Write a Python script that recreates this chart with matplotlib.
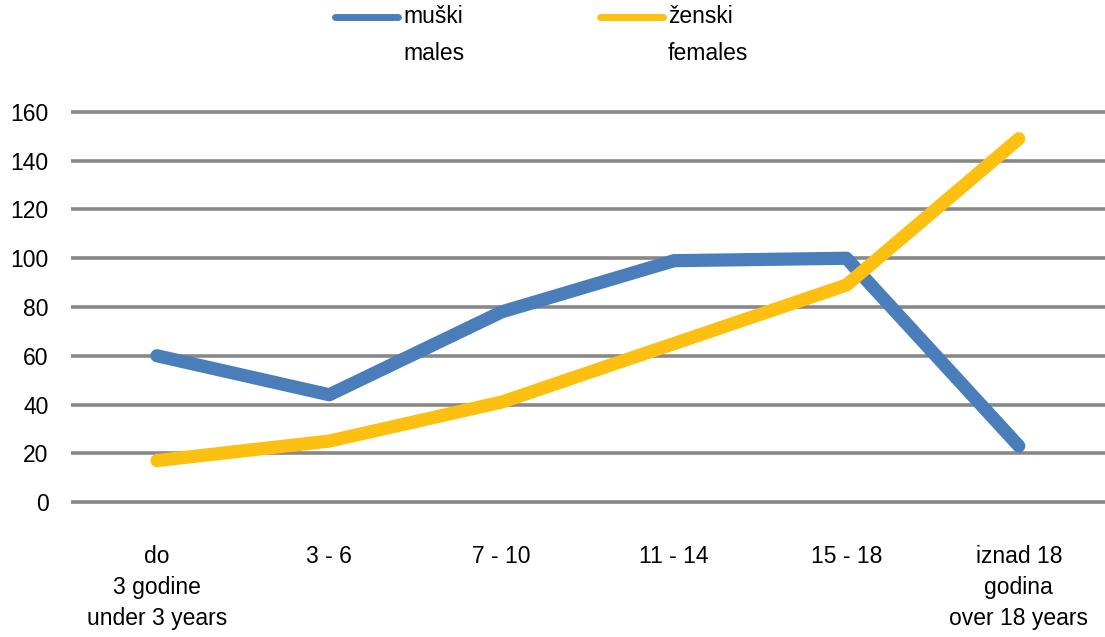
import matplotlib
matplotlib.use("Agg")
import matplotlib.pyplot as plt
from matplotlib.lines import Line2D

categories = ["do\n3 godine\nunder 3 years", "3 - 6", "7 - 10", "11 - 14", "15 - 18", "iznad 18\ngodina\nover 18 years"]
males = [60, 44, 78, 99, 100, 23]
females = [17, 25, 41, 65, 89, 149]
series_labels = ["muški\nmales", "ženski\nfemales"]
yticks = [0, 20, 40, 60, 80, 100, 120, 140, 160]

plt.rcParams['font.family'] = ['Liberation Sans', 'DejaVu Sans']
blue = "#4A7EBB"
yellow = "#FDC010"
fs = 16.5

fig = plt.figure(figsize=(11.05, 6.37), dpi=100)
ax = fig.add_axes([0.064, 1 - 514.2 / 637, 0.936, (514.2 - 99.8) / 637])
x = list(range(len(categories)))
ax.set_xlim(-0.5, len(categories) - 0.5)
ax.set_ylim(-5, 165)
for t in yticks:
    ax.axhline(t, color="#888888", lw=2.6, zorder=1)
ax.plot(x, males, color=blue, lw=9.5, solid_capstyle="round", solid_joinstyle="round", zorder=3)
ax.plot(x, females, color=yellow, lw=9.5, solid_capstyle="round", solid_joinstyle="round", zorder=3)
ax.set_yticks(yticks)
ax.set_yticklabels([str(t) for t in yticks], fontsize=fs)
ax.set_xticks(x)
ax.set_xticklabels(categories, fontsize=fs, linespacing=1.45)
ax.tick_params(axis="both", length=0)
ax.tick_params(axis="x", pad=22)
ax.tick_params(axis="y", pad=16)
for s in ax.spines.values():
    s.set_visible(False)

# legend
for (x0, col, lab) in [(335, blue, series_labels[0]), (600, yellow, series_labels[1])]:
    fig.add_artist(Line2D([x0 / 1105, (x0 + 63) / 1105], [1 - 17 / 637, 1 - 17 / 637],
                          color=col, lw=5, solid_capstyle="round", transform=fig.transFigure))
    fig.text((x0 + 68) / 1105, 1 - 5 / 637, lab, fontsize=fs, va="top", ha="left", linespacing=1.8)

fig.savefig("out.png", dpi=100)
